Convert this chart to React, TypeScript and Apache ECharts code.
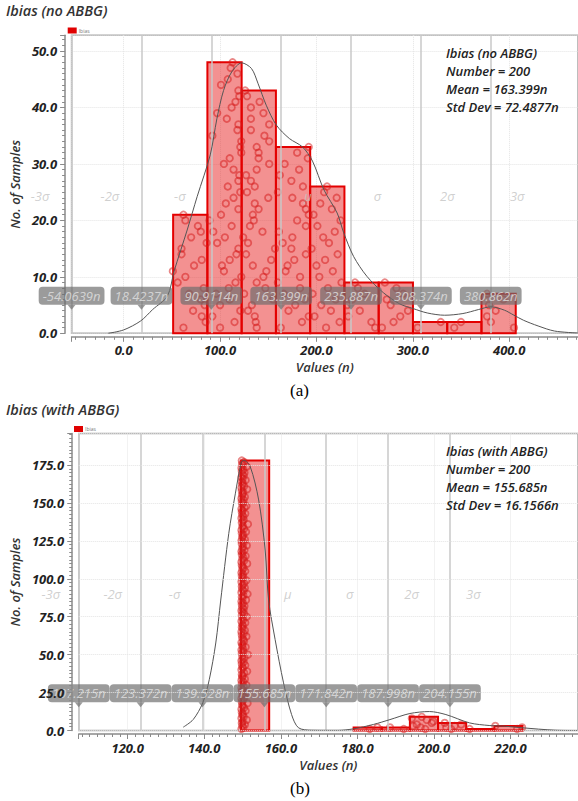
import React, { useEffect, useRef } from 'react';
import * as echarts from 'echarts';

const FONT = '"Open Sans", "Noto Sans", "DejaVu Sans", sans-serif';

// ---------------- Chart (a): Ibias (no ABBG) ----------------
const titleA = 'Ibias (no ABBG)';
const statsA = ['Ibias (no ABBG)', 'Number = 200', 'Mean = 163.399n', 'Std Dev = 72.4877n'];
const meanA = 163.399;
const sigmaA = 72.4877;
const xRangeA = [-54.0639, 471.4];
const yMaxA = 52.8;
const binEdgesA = [51.3, 86.85, 122.4, 157.95, 193.5, 229.05, 264.6, 300.15, 335.7, 371.25, 406.8];
const countsA = [21, 48, 43, 33, 26, 9, 9, 2, 2, 7];
// sample values per bin, listed from bottom (rank 1) upwards
const samplesA = [
  [62, 85, 81, 72, 84, 80, 68, 83, 56, 64, 51, 73, 81, 60, 60, 86, 70, 80, 77, 64, 62],
  [100, 115, 92, 121, 100, 110, 96, 109, 116, 122, 104, 102, 110, 117, 119, 97, 105, 93, 112, 89, 101, 119, 106, 114, 121, 108, 119, 120, 114, 104, 110, 122, 121, 122, 92, 118, 119, 107, 97, 112, 116, 120, 119, 101, 108, 118, 111, 113],
  [138, 137, 136, 129, 133, 155, 125, 147, 138, 145, 148, 134, 153, 127, 157, 129, 124, 144, 131, 135, 134, 140, 136, 150, 128, 136, 132, 127, 138, 151, 140, 140, 138, 151, 146, 132, 151, 132, 145, 132, 141, 128, 126],
  [163, 185, 192, 171, 178, 188, 166, 183, 160, 183, 168, 170, 177, 189, 174, 165, 175, 161, 189, 180, 192, 189, 186, 175, 160, 186, 174, 162, 182, 167, 191, 180, 192],
  [210, 224, 198, 215, 205, 220, 196, 212, 226, 203, 217, 200, 209, 222, 195, 213, 207, 219, 201, 225, 197, 216, 204, 221, 208, 211],
  [261, 257, 233, 245, 232, 237, 250, 243, 240],
  [268, 280, 287, 295, 277, 273, 290, 283, 271],
  [305, 329],
  [343, 350],
  [405, 381, 377, 386, 379, 394, 377],
];
const curveA = [
  [-16, 0], [0, 0.6], [17.7, 2.2], [30, 4.2], [45.4, 6.6], [52.3, 11], [65.9, 18.3], [76.2, 24.2],
  [89.8, 31.6], [96.7, 38], [103.6, 43], [112.1, 46.3], [122.4, 47.9], [132.6, 46.9], [139.5, 44.2],
  [147.9, 40.4], [158.3, 36.9], [171.9, 34.5], [185.6, 33], [195.9, 30.5], [207.8, 25.4], [221.5, 21.3],
  [228.3, 17.8], [238.6, 13.6], [252.3, 10.1], [269.4, 7.2], [286.5, 5.2], [300, 4.4], [315, 3.6],
  [333, 3.2], [352, 3.5], [368, 4.2], [381, 4.7], [395, 4.1], [405, 3.2], [415, 2.3], [430, 1.3],
  [447, 0.4], [471, 0.05],
];
const sigmaValuesA = [-54.0639, 18.4237, 90.9114, 163.399, 235.887, 308.374, 380.862];
const sigmaBoxTextA = ['-54.0639n', '18.4237n', '90.9114n', '163.399n', '235.887n', '308.374n', '380.862n'];

// ---------------- Chart (b): Ibias (with ABBG) ----------------
const titleB = 'Ibias (with ABBG)';
const statsB = ['Ibias (with ABBG)', 'Number = 200', 'Mean = 155.685n', 'Std Dev = 16.1566n'];
const meanB = 155.685;
const sigmaB = 16.1566;
const xRangeB = [107.215, 237.6];
const yMaxB = 195.8;
const binEdgesB = [149.6, 156.95, 164.3, 171.65, 179.0, 186.35, 193.7, 201.05, 208.4, 215.75, 223.1];
const countsB = [178, 0, 0, 0, 2, 2, 9, 5, 1, 3];
const samplesB = [
  [
    149.7, 150.2, 149.9, 150.6, 149.8, 150.0, 151.1, 149.7, 150.3, 149.9,
    150.1, 149.8, 150.8, 149.7, 150.4, 150.0, 149.9, 151.3, 149.8, 150.2,
    149.7, 150.5, 149.9, 150.1, 150.9, 149.8, 150.0, 149.7, 150.3, 151.0,
    149.8, 150.2, 149.7, 150.6, 149.9, 150.0, 149.8, 150.4, 151.2, 149.7,
    150.1, 149.9, 150.7, 149.8, 150.3, 149.7, 150.0, 150.5, 149.9, 151.4,
    149.8, 150.2, 149.7, 150.1, 150.8, 149.9, 150.0, 149.7, 150.4, 150.2,
    149.9, 151.0, 149.8, 150.3, 149.7, 150.6, 150.0, 149.8, 150.1, 149.9,
    150.7, 149.7, 150.2, 149.9, 151.1, 149.8, 150.4, 150.0, 149.7, 150.3,
    149.9, 150.5, 149.8, 150.1, 149.7, 150.9, 150.0, 149.8, 150.2, 151.3,
    149.7, 150.3, 149.9, 150.6, 149.8, 150.0, 150.4, 149.7, 151.0, 149.9,
    150.2, 149.8, 150.1, 149.7, 150.7, 149.9, 150.3, 150.0, 149.8, 151.2,
    149.7, 150.4, 149.9, 150.2, 150.8, 149.8, 150.0, 149.7, 150.5, 149.9,
    150.1, 151.1, 149.8, 150.3, 149.7, 150.6, 149.9, 150.0, 150.2, 149.8,
    150.9, 149.7, 150.4, 149.9, 150.1, 151.4, 149.8, 150.0, 150.3, 149.7,
    150.2, 149.9, 150.7, 149.8, 150.0, 149.7, 150.5, 151.0, 149.9, 150.1,
    149.8, 150.3, 149.7, 150.6, 149.9, 150.0, 150.2, 149.8, 151.2, 149.7,
    150.4, 149.9, 150.1, 149.8, 150.8, 150.0, 149.7, 150.3, 149.9, 150.5,
    149.8, 150.2, 149.7, 151.1, 150.0, 149.9, 150.4, 149.8,
  ],
  [],
  [],
  [],
  [183.2, 185.2],
  [192.1, 188.5],
  [197.7, 196.5, 194.5, 195.5, 199.4, 199.8, 198.1, 194.2, 196.8],
  [204.5, 203.2, 205.4, 207.1, 202.8],
  [209.3],
  [221.7, 223.0, 216.0],
];
const curveB = [
  [134.5, 2.2], [137.1, 7.2], [139.6, 18.2], [141.3, 33.5], [143, 57.7], [144.3, 86], [146.4, 130],
  [148.1, 156], [149.7, 177], [150.4, 178], [152, 174], [154.2, 152], [155.9, 119], [156.8, 86],
  [158.5, 60], [160.7, 31.4], [162.8, 10.5], [164.6, 1.8], [168, 0.2], [175, 0.1], [179, 1.1],
  [184.2, 4], [188.5, 7.2], [193.7, 11.2], [198.8, 12.5], [203.1, 10.5], [209.3, 5], [214.4, 3.3],
  [218.7, 2.8], [223, 1.8], [231.6, 0.2], [237.6, 0],
];
const sigmaValuesB = [107.215, 123.372, 139.528, 155.685, 171.842, 187.998, 204.155];
const sigmaBoxTextB = ['107.215n', '123.372n', '139.528n', '155.685n', '171.842n', '187.998n', '204.155n'];

const sigmaNames = ['-3σ', '-2σ', '-σ', 'μ', 'σ', '2σ', '3σ'];
const captions = ['(a)', '(b)'];
const seriesName = 'Ibias';

// ---------------- helpers ----------------
const AXIS_GREY = '#8a8a8a';

function buildBars(edges: number[], counts: number[]) {
  const out: number[][] = [];
  counts.forEach((c, i) => {
    if (c > 0) out.push([edges[i], edges[i + 1], c]);
  });
  return out;
}

function buildPoints(samples: number[][]) {
  const pts: number[][] = [];
  samples.forEach((bin) => bin.forEach((v, k) => pts.push([v, k + 1])));
  return pts;
}

const tickLabelStyle = {
  fontFamily: FONT,
  fontSize: 13,
  fontStyle: 'italic',
  fontWeight: 'bold',
  color: '#222',
};
const axisNameStyle = { fontFamily: FONT, fontSize: 13, fontStyle: 'italic', fontWeight: 600, color: '#333' };

function xAxisOf(gridIndex: number, range: number[], splitNumber: number) {
  return {
    type: 'value',
    gridIndex,
    min: range[0],
    max: range[1],
    splitNumber,
    offset: 3.5,
    name: 'Values (n)',
    nameLocation: 'middle',
    nameGap: 24,
    nameTextStyle: axisNameStyle,
    axisLine: { show: true, onZero: false, lineStyle: { color: AXIS_GREY, width: 1.5 } },
    axisTick: { show: true, length: 5, lineStyle: { color: AXIS_GREY, width: 1 } },
    minorTick: { show: true, splitNumber: 10, length: 3, lineStyle: { color: AXIS_GREY, width: 1 } },
    axisLabel: {
      showMinLabel: false,
      showMaxLabel: false,
      margin: 7,
      formatter: (v: number) => v.toFixed(1),
      ...tickLabelStyle,
    },
    splitLine: { show: true, lineStyle: { color: '#e4e4e4', type: 'dotted', width: 1 } },
  };
}

function yAxisOf(gridIndex: number, max: number, interval: number | undefined, z: number) {
  const ax: any = {
    type: 'value',
    gridIndex,
    min: 0,
    max,
    offset: 6.5,
    z,
    name: 'No. of Samples',
    nameLocation: 'middle',
    nameGap: 30,
    nameTextStyle: axisNameStyle,
    axisLine: { show: true, onZero: false, lineStyle: { color: AXIS_GREY, width: 1.5 } },
    axisTick: { show: true, length: 5, lineStyle: { color: AXIS_GREY, width: 1 } },
    minorTick: { show: true, splitNumber: 10, length: 3, lineStyle: { color: AXIS_GREY, width: 1 } },
    axisLabel: {
      showMaxLabel: false,
      margin: 8,
      formatter: (v: number) => v.toFixed(1),
      ...tickLabelStyle,
    },
    splitLine: { show: true, lineStyle: { color: '#e4e4e4', type: 'dotted', width: 1 } },
  };
  if (interval) ax.interval = interval;
  return ax;
}

function seriesFor(
  idx: number,
  edges: number[],
  counts: number[],
  samples: number[][],
  curve: number[][],
  sigmaVals: number[],
  boxTexts: string[],
  sigma: number,
  yMax: number,
) {
  const bars = buildBars(edges, counts);
  const points = buildPoints(samples);
  const nameY = yMax * 0.46;
  const boxY = yMax * 0.087;
  const nameData = sigmaVals.map((v, i) => ({
    value: [i < 3 ? v - 0.45 * sigma : v + 0.38 * sigma, nameY],
    label: { formatter: sigmaNames[i] },
  }));
  const boxData = sigmaVals.map((v, i) => ({ value: [v, boxY], label: { formatter: boxTexts[i] } }));
  return [
    {
      type: 'custom',
      name: seriesName,
      xAxisIndex: idx,
      yAxisIndex: idx,
      z: 2,
      itemStyle: { color: '#e00000' },
      encode: { x: [0, 1], y: 2 },
      data: bars,
      renderItem: (params: any, api: any) => {
        const p0 = api.coord([api.value(0), api.value(2)]);
        const p1 = api.coord([api.value(1), 0]);
        return {
          type: 'rect',
          shape: { x: p0[0], y: p0[1], width: p1[0] - p0[0], height: p1[1] - p0[1] },
          style: { fill: 'rgba(232, 36, 36, 0.5)', stroke: '#e40000', lineWidth: 2 },
        };
      },
    },
    {
      type: 'scatter',
      name: 'sigma-names',
      xAxisIndex: idx,
      yAxisIndex: idx,
      z: 3,
      clip: false,
      silent: true,
      symbolSize: 0,
      data: nameData,
      label: {
        show: true,
        position: 'inside',
        fontFamily: FONT,
        fontSize: 13,
        fontStyle: 'italic',
        color: '#c4c4c4',
      },
      markLine: {
        silent: true,
        symbol: ['none', 'none'],
        label: { show: false },
        lineStyle: { color: '#c9c9c9', width: 1.5, type: 'solid' },
        data: sigmaVals.map((v) => ({ xAxis: v })),
      },
    },
    {
      type: 'scatter',
      name: 'samples',
      xAxisIndex: idx,
      yAxisIndex: idx,
      z: 4,
      silent: true,
      symbol: 'circle',
      symbolSize: 6.5,
      itemStyle: { color: 'rgba(0,0,0,0)', borderColor: 'rgba(212, 26, 26, 0.65)', borderWidth: 1.8 },
      data: points,
    },
    {
      type: 'line',
      name: 'density',
      xAxisIndex: idx,
      yAxisIndex: idx,
      z: 5,
      silent: true,
      showSymbol: false,
      smooth: 0.3,
      lineStyle: { color: '#555', width: 1 },
      data: curve,
    },
    {
      type: 'scatter',
      name: 'sigma-boxes',
      xAxisIndex: idx,
      yAxisIndex: idx,
      z: 6,
      clip: false,
      silent: true,
      symbol: 'triangle',
      symbolRotate: 180,
      symbolSize: [8, 5],
      itemStyle: { color: 'rgba(108, 108, 108, 0.85)' },
      data: boxData,
      label: {
        show: true,
        position: 'top',
        distance: 0,
        backgroundColor: 'rgba(108, 108, 108, 0.85)',
        borderRadius: 4,
        padding: [2, 4, 2, 4],
        lineHeight: 14,
        fontFamily: FONT,
        fontSize: 13,
        fontStyle: 'italic',
        color: '#e2e2e2',
      },
    },
  ];
}

export default function App() {
  const ref = useRef<HTMLDivElement>(null);

  useEffect(() => {
    if (!ref.current) return;
    const chart = echarts.init(ref.current, undefined, { renderer: 'svg' });
    const titleStyle = { fontFamily: FONT, fontSize: 14.5, fontStyle: 'italic', fontWeight: 600, color: '#333' };
    const legendBase = {
      orient: 'horizontal',
      itemWidth: 9,
      itemHeight: 6,
      itemGap: 2,
      padding: 0,
      selectedMode: false,
      textStyle: { fontFamily: FONT, fontSize: 5, color: '#777', padding: [0, 0, 0, -3] },
      data: [{ name: seriesName, icon: 'rect', itemStyle: { color: '#e00000', borderWidth: 0 } }],
    };
    const statStyle = {
      fontFamily: FONT,
      fontSize: 13,
      fontStyle: 'italic',
      fontWeight: 600,
      fill: '#222',
      lineHeight: 18.2,
      align: 'left',
      verticalAlign: 'top',
    };
    const capStyle = {
      fontFamily: '"Liberation Serif", "Times New Roman", serif',
      fontSize: 17,
      fill: '#000',
      align: 'left',
      verticalAlign: 'top',
    };
    const option: any = {
      animation: false,
      backgroundColor: '#fff',
      title: [
        { text: titleA, left: 6, top: 3, padding: 0, textStyle: titleStyle },
        { text: titleB, left: 6, top: 402, padding: 0, textStyle: titleStyle },
      ],
      legend: [
        { ...legendBase, left: 67.7, top: 27.5 },
        { ...legendBase, left: 74, top: 426 },
      ],
      grid: [
        { left: 67.7, top: 35.2, right: -2, height: 298.1, show: true, borderColor: '#a8a8a8', borderWidth: 1.5, backgroundColor: 'transparent' },
        { left: 74, top: 433.5, right: -2, height: 297, show: true, borderColor: '#a8a8a8', borderWidth: 1.5, backgroundColor: 'transparent' },
      ],
      xAxis: [xAxisOf(0, xRangeA, 5), xAxisOf(1, xRangeB, 6)],
      yAxis: [yAxisOf(0, yMaxA, undefined, 0), yAxisOf(1, yMaxB, 25, 10)],
      series: [
        ...seriesFor(0, binEdgesA, countsA, samplesA, curveA, sigmaValuesA, sigmaBoxTextA, sigmaA, yMaxA),
        ...seriesFor(1, binEdgesB, countsB, samplesB, curveB, sigmaValuesB, sigmaBoxTextB, sigmaB, yMaxB),
      ],
      graphic: [
        { type: 'text', left: 446, top: 43.5, z: 20, style: { ...statStyle, text: statsA.join('\n') } },
        { type: 'text', left: 446, top: 441.5, z: 20, style: { ...statStyle, text: statsB.join('\n') } },
        { type: 'text', left: 290, top: 382, style: { ...capStyle, text: captions[0] } },
        { type: 'text', left: 290, top: 780, style: { ...capStyle, text: captions[1] } },
      ],
    };
    chart.setOption(option);
    return () => chart.dispose();
  }, []);

  return (
    <div
      ref={ref}
      style={{ position: 'absolute', left: 0, top: 0, width: 578, height: 801, background: '#fff' }}
    />
  );
}
